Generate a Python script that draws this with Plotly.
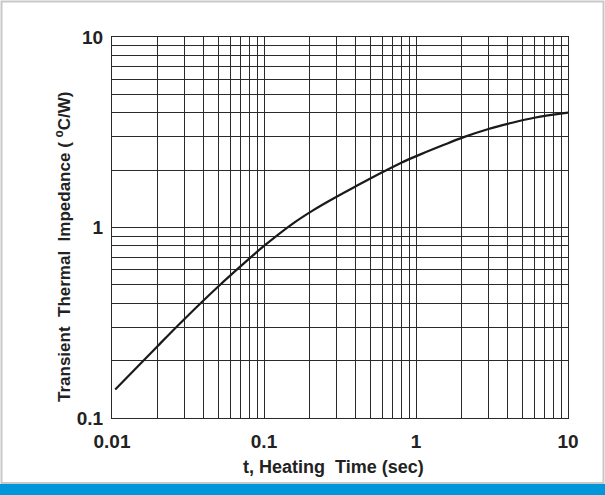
import plotly.graph_objects as go

# Data
t_sec = [0.0105, 0.02, 0.03, 0.05, 0.07, 0.1, 0.15, 0.21, 0.3, 0.41, 0.6,
         0.8, 1.07, 1.5, 2.06, 3.0, 4.07, 6.0, 10]
z_cw = [0.141, 0.239, 0.331, 0.49, 0.625, 0.80, 1.03, 1.23, 1.45, 1.66, 1.95,
        2.19, 2.42, 2.70, 2.98, 3.29, 3.51, 3.77, 4.01]

x_major = [0.01, 0.1, 1, 10]
x_labels = ["0.01", "0.1", "1", "10"]
y_major = [0.1, 1, 10]
y_labels = ["0.1", "1", "10"]
x_minor = [m * 10 ** e for e in (-2, -1, 0) for m in range(2, 10)]
y_minor = [m * 10 ** e for e in (-1, 0) for m in range(2, 10)]

x_title = "t, Heating  Time (sec)"
y_title = "Transient  Thermal  Impedance ( <sup>o</sup>C/W)"

fig = go.Figure()
fig.add_trace(go.Scatter(x=t_sec, y=z_cw, mode="lines",
                         line=dict(color="#1a1a1a", width=2.2, shape="spline", smoothing=1.0),
                         showlegend=False, hoverinfo="skip"))

font_main = "Liberation Sans, Arial, sans-serif"
grid_col = "#2a2a2a"
txt_col = "#222222"

common = dict(type="log", showgrid=True, gridcolor=grid_col, gridwidth=1, ticks="",
              showline=True, linecolor=grid_col, linewidth=1, mirror=True, zeroline=False,
              tickfont=dict(family=font_main, size=19, color=txt_col))

fig.update_xaxes(range=[-2, 1], tickmode="array", tickvals=x_major,
                 ticktext=["<b>%s</b>" % s for s in x_labels], ticklabelstandoff=6,
                 minor=dict(tickmode="array", tickvals=x_minor, showgrid=True,
                            gridcolor=grid_col, gridwidth=1, ticks=""),
                 **common)
fig.update_yaxes(range=[-1, 1], tickmode="array", tickvals=y_major,
                 ticktext=["<b>%s</b>" % s for s in y_labels], ticklabelstandoff=4,
                 minor=dict(tickmode="array", tickvals=y_minor, showgrid=True,
                            gridcolor=grid_col, gridwidth=1, ticks=""),
                 **common)

L, R, T, B = 112, 37, 37, 77
W, H = 605, 495
pw, ph = W - L - R, H - T - B

def px_x(p):
    return (p - L) / pw

def px_y(p):
    return (H - B - p) / ph

shapes = [
    dict(type="rect", xref="paper", yref="paper", x0=px_x(1.5), x1=px_x(603.5),
         y0=px_y(483), y1=px_y(1.5), line=dict(color="#c8c8c8", width=2),
         fillcolor="rgba(0,0,0,0)", layer="below"),
    dict(type="rect", xref="paper", yref="paper", x0=px_x(0), x1=px_x(605),
         y0=px_y(495), y1=px_y(484), line=dict(width=0), fillcolor="#0096d9", layer="below"),
]

annotations = [
    dict(text="<b>%s</b>" % x_title, xref="paper", yref="paper", x=px_x(333), y=px_y(467),
         xanchor="center", yanchor="middle", showarrow=False,
         font=dict(family=font_main, size=18, color=txt_col)),
    dict(text="<b>%s</b>" % y_title, xref="paper", yref="paper", x=px_x(63), y=px_y(247),
         xanchor="center", yanchor="middle", showarrow=False, textangle=-90,
         font=dict(family=font_main, size=17, color=txt_col)),
]

fig.update_layout(
    width=W, height=H, margin=dict(l=L, r=R, t=T, b=B, autoexpand=False),
    paper_bgcolor="white", plot_bgcolor="white", shapes=shapes, annotations=annotations,
    font=dict(family=font_main, color=txt_col),
)

fig.write_html("out.html")
